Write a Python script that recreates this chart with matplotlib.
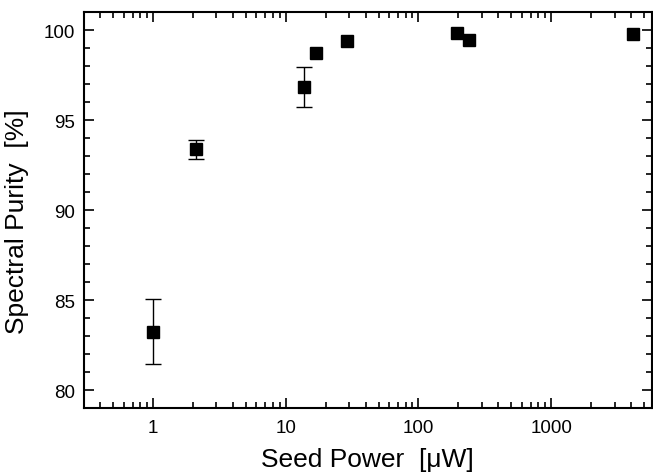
import matplotlib
matplotlib.use('Agg')
import matplotlib.pyplot as plt
from matplotlib.ticker import LogLocator, FixedLocator, FixedFormatter, MultipleLocator, NullFormatter

# Данные
seed_power = [1.0, 2.09, 13.7, 16.9, 29.1, 194.5, 240.0, 4120.0]
purity = [83.25, 93.38, 96.84, 98.73, 99.39, 99.85, 99.48, 99.81]
# погрешности есть только у первых трёх точек
err_power = [1.0, 2.09, 13.7]
err_purity = [83.25, 93.38, 96.84]
err_value = [1.8, 0.53, 1.1]

plt.rcParams['font.family'] = ['Liberation Sans', 'DejaVu Sans']

fig = plt.figure(figsize=(6.53, 4.77), dpi=100)
ax = fig.add_axes([83.7 / 653, 1 - 409 / 477, (652 - 83.7) / 653, (409 - 13.3) / 477])

ax.errorbar(err_power, err_purity, yerr=err_value, fmt='none', ecolor='black',
            elinewidth=1, capsize=6, capthick=1)
ax.plot(seed_power, purity, 's', color='black', markersize=8)

ax.set_xscale('log')
ax.set_xlim(0.3, 5750)
ax.set_ylim(79, 101)

ax.xaxis.set_major_locator(FixedLocator([1, 10, 100, 1000]))
ax.xaxis.set_major_formatter(FixedFormatter(['1', '10', '100', '1000']))
ax.xaxis.set_minor_locator(LogLocator(base=10, subs=range(2, 10), numticks=20))
ax.xaxis.set_minor_formatter(NullFormatter())
ax.yaxis.set_major_locator(MultipleLocator(5))
ax.yaxis.set_minor_locator(MultipleLocator(1))

ax.tick_params(which='both', direction='in', top=True, right=True, labelsize=13.5, width=1.2)
ax.tick_params(which='major', length=7)
ax.tick_params(which='minor', length=4)
ax.tick_params(axis='x', pad=8)
ax.tick_params(axis='y', pad=6)
for s in ax.spines.values():
    s.set_linewidth(1.5)

ax.set_xlabel('Seed Power  [μW]', fontsize=19)
ax.set_ylabel('Spectral Purity  [%]', fontsize=19)
ax.xaxis.set_label_coords(0.5, -0.099)
ax.yaxis.set_label_coords(-0.097, 0.473)

fig.savefig('out.png', dpi=100)
